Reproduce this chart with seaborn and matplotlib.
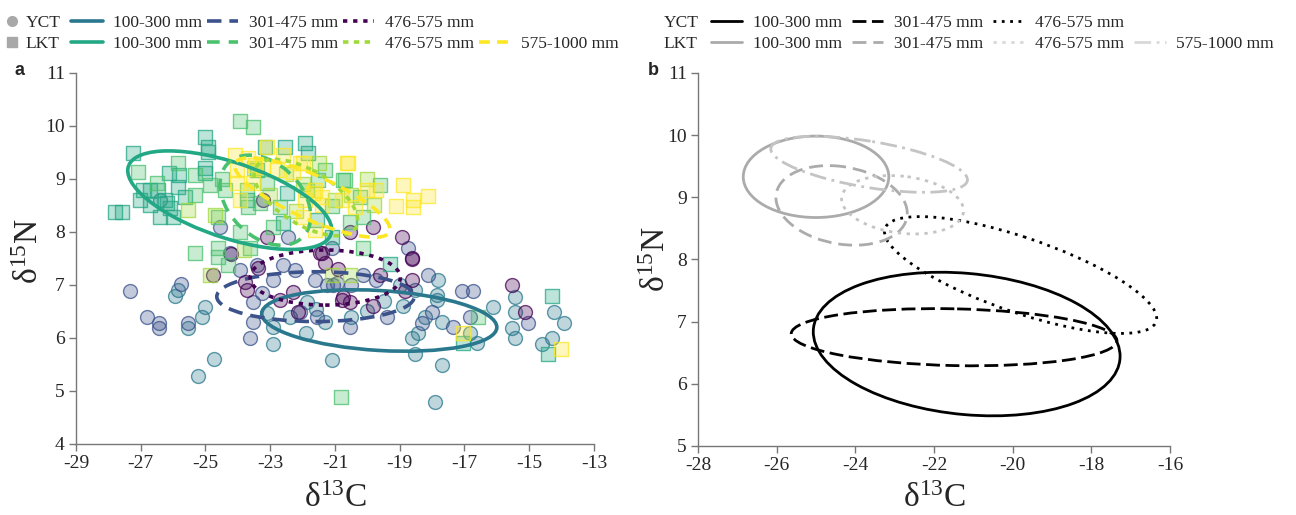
"""Stable isotope biplot: YCT vs LKT by size class."""

import matplotlib
matplotlib.use("Agg")
import matplotlib.pyplot as plt
from matplotlib.patches import Ellipse
from matplotlib.lines import Line2D
from matplotlib.colors import to_rgba
import numpy as np
import pandas as pd
import seaborn as sns

size_classes = ["100-300 mm", "301-475 mm", "476-575 mm", "575-1000 mm"]

# ---- panel a: individual fish (d13C, d15N) ----
yct_100_x = [-17.83, -17.86, -17.86, -16.13, -15.45, -15.45, -15.54, -15.45, -14.62, -14.31,
             -14.22, -13.94, -16.62, -16.84, -17.7, -17.92, -18.54, -18.63, -18.44, -18.23,
             -17.7, -21.1, -21.9, -18.54, -25.94, -25.54, -25.11, -25.0, -24.74, -25.23,
             -22.92, -23.1, -22.92, -21.31, -22.4, -21.87, -25.85, -26.41, -20.0, -19.5,
             -18.9, -20.5, -21.6, -19.0]
yct_100_y = [7.09, 6.81, 6.72, 6.58, 6.77, 6.49, 6.19, 6.0, 5.89, 6.0,
             6.49, 6.28, 5.91, 6.09, 5.49, 4.79, 5.7, 6.0, 6.09, 6.4,
             6.3, 5.58, 6.09, 6.9, 6.79, 6.19, 6.4, 6.58, 5.6, 5.28,
             5.89, 6.47, 6.21, 6.3, 6.4, 6.68, 6.9, 8.6, 6.5, 6.7,
             6.6, 6.4, 6.55, 7.0]

yct_301_x = [-27.33, -26.8, -26.44, -26.44, -25.54, -25.74, -23.63, -23.54, -23.54, -23.26,
             -22.24, -22.6, -23.94, -23.41, -20.54, -21.56, -22.92, -22.09, -20.94, -21.25,
             -17.09, -16.75, -17.36, -16.84, -18.0, -18.13, -18.32, -15.05, -19.4, -20.14,
             -19.72, -20.5, -21.06, -21.62, -24.56, -22.46, -24.25, -18.75, -21.1]
yct_301_y = [6.89, 6.4, 6.28, 6.19, 6.28, 7.02, 6.0, 6.3, 6.68, 6.85,
             7.28, 7.38, 7.28, 7.38, 6.21, 6.4, 7.09, 6.49, 7.04, 7.0,
             6.89, 6.89, 6.21, 6.4, 6.49, 7.19, 6.28, 6.28, 6.4, 7.19,
             7.09, 7.0, 7.0, 7.09, 8.09, 7.91, 7.6, 7.7, 7.7]

yct_476_x = [-24.77, -24.22, -23.78, -23.72, -23.38, -22.7, -22.15, -21.47, -21.31, -20.76,
             -20.54, -22.3, -18.63, -18.63, -20.91, -19.62, -18.85, -19.83, -20.79, -15.54,
             -15.14, -23.1, -23.23, -20.54, -19.83, -18.94, -18.63, -21.4]
yct_476_y = [7.19, 7.58, 7.06, 6.91, 7.32, 6.72, 6.49, 7.6, 7.42, 6.77,
             6.68, 6.87, 7.5, 7.09, 7.3, 7.19, 6.89, 6.6, 6.72, 7.0,
             6.49, 7.91, 8.6, 8.0, 8.09, 7.91, 7.49, 7.6]

lkt_100_x = [-27.24, -25.02, -24.93, -24.93, -25.02, -25.02, -26.13, -25.82, -26.93, -26.72,
             -26.47, -25.85, -25.64, -26.19, -26.1, -27.58, -27.8, -22.55, -23.17, -23.42,
             -21.93, -21.84, -26.41, -26.0, -22.61, -21.56, -22.49, -19.31, -14.31, -14.43,
             -17.06, -23.72, -21.1, -26.72, -27.02, -26.25]
lkt_100_y = [9.49, 9.79, 9.6, 9.51, 9.21, 9.11, 9.11, 9.08, 8.79, 8.79,
             8.79, 8.85, 8.66, 8.55, 8.45, 8.38, 8.38, 9.6, 9.6, 9.17,
             9.68, 9.49, 8.28, 8.28, 8.17, 8.23, 8.74, 7.4, 6.79, 5.7,
             5.91, 8.6, 7.91, 8.51, 8.6, 8.6]

lkt_301_x = [-23.94, -23.54, -27.09, -25.85, -26.5, -25.33, -24.5, -24.62, -23.69, -23.32,
             -22.7, -24.62, -22.92, -21.53, -21.1, -20.7, -21.87, -21.31, -20.76, -20.23,
             -19.62, -20.14, -20.54, -20.82, -24.31, -25.33, -24.62, -23.63, -23.94, -20.14,
             -16.59, -23.1, -23.72, -24.86, -24.4, -25.33]
lkt_301_y = [10.09, 9.98, 9.13, 9.3, 8.92, 8.7, 9.0, 8.28, 8.47, 8.55,
             8.47, 7.53, 8.09, 8.98, 8.49, 8.98, 8.79, 9.17, 8.98, 8.66,
             8.89, 8.28, 8.19, 4.89, 7.38, 7.6, 7.7, 7.7, 8.0, 7.7,
             6.4, 8.92, 8.79, 8.89, 8.79, 9.08]

lkt_476_x = [-25.54, -24.87, -21.1, -20.54, -22.0, -21.0, -20.5, -22.5, -19.8, -23.0,
             -21.5, -20.0, -23.5, -22.2, -24.7, -23.8]
lkt_476_y = [8.42, 7.19, 7.19, 7.19, 8.9, 8.6, 8.7, 9.1, 8.5, 8.7,
             9.3, 9.0, 9.2, 8.4, 8.32, 7.66]

lkt_575_x = [-20.6, -18.91, -18.14, -18.6, -18.6, -19.12, -20.02, -19.72, -20.79, -21.62,
             -21.99, -21.62, -21.4, -21.99, -24.03, -23.1, -23.23, -22.8, -22.3, -22.09,
             -21.93, -21.68, -21.4, -24.03, -23.54, -23.94, -20.63, -20.39, -17.06, -14.03,
             -22.6, -23.7, -24.09, -23.48]
lkt_575_y = [9.3, 8.89, 8.68, 8.6, 8.47, 8.49, 8.79, 8.79, 8.6, 8.79,
             8.28, 8.04, 8.66, 9.3, 9.17, 9.6, 9.23, 9.17, 9.13, 9.3,
             8.6, 8.74, 8.51, 8.92, 8.92, 8.6, 9.3, 8.47, 6.09, 5.79,
             9.45, 9.4, 9.45, 9.26]

# ---- ellipse summaries: centre, half-range in x / y, correlation ----
ell_group = ["YCT 100-300", "YCT 301-475", "YCT 476-575",
             "LKT 100-300", "LKT 301-475", "LKT 476-575", "LKT 575-1000"]
a_cx = [-19.63, -21.6, -21.3, -24.25, -23.15, -21.9, -21.7]
a_cy = [6.33, 6.78, 7.14, 8.6, 8.6, 8.65, 8.65]
a_hx = [3.63, 3.05, 2.32, 3.15, 1.4, 1.6, 2.4]
a_hy = [0.58, 0.47, 0.52, 0.93, 0.85, 0.72, 0.75]
a_rho = [-0.22, 0.0, 0.0, -0.6, -0.35, -0.6, -0.8]

b_cx = [-21.17, -21.49, -19.8, -25.0, -24.35, -22.8, -23.65]
b_cy = [6.64, 6.75, 7.75, 9.33, 8.87, 8.88, 9.53]
b_hx = [3.9, 4.14, 3.46, 1.85, 1.67, 1.55, 2.5]
b_hy = [1.155, 0.46, 0.94, 0.655, 0.64, 0.47, 0.45]
b_rho = [-0.17, -0.12, -0.74, 0.0, -0.2, -0.2, -0.55]

# styles
colors_a = ["#2a788e", "#3b528b", "#440154", "#22a884", "#4ac16d", "#a0da39", "#fde725"]
colors_b = ["black", "black", "black", "#ababab", "#ababab", "#c4c4c4", "#c4c4c4"]
styles_a = ["-", (0, (4, 2.2)), (0, (1.2, 1.6)), "-", (0, (3.5, 2.5)), (0, (1.5, 1.5)), (0, (3, 2))]
styles_b = ["-", (0, (5, 2)), (0, (1, 2)), "-", (0, (5, 2.5)), (0, (1.2, 2)), (0, (6, 2, 1, 2))]

points = pd.DataFrame({
    "d13C": yct_100_x + yct_301_x + yct_476_x + lkt_100_x + lkt_301_x + lkt_476_x + lkt_575_x,
    "d15N": yct_100_y + yct_301_y + yct_476_y + lkt_100_y + lkt_301_y + lkt_476_y + lkt_575_y,
    "group": (["YCT 100-300"] * len(yct_100_x) + ["YCT 301-475"] * len(yct_301_x)
              + ["YCT 476-575"] * len(yct_476_x) + ["LKT 100-300"] * len(lkt_100_x)
              + ["LKT 301-475"] * len(lkt_301_x) + ["LKT 476-575"] * len(lkt_476_x)
              + ["LKT 575-1000"] * len(lkt_575_x)),
})


def cov_ellipse(cx, cy, hx, hy, rho, **kw):
    """Ellipse whose x / y half-ranges are hx / hy with correlation rho."""
    cov = np.array([[hx ** 2, rho * hx * hy], [rho * hx * hy, hy ** 2]])
    vals, vecs = np.linalg.eigh(cov)
    order = vals.argsort()[::-1]
    vals, vecs = vals[order], vecs[:, order]
    angle = np.degrees(np.arctan2(vecs[1, 0], vecs[0, 0]))
    return Ellipse((cx, cy), 2 * np.sqrt(vals[0]), 2 * np.sqrt(vals[1]),
                   angle=angle, fill=False, **kw)


sns.set_style("ticks")
plt.rcParams["font.family"] = ["Liberation Serif", "DejaVu Serif"]
plt.rcParams["mathtext.fontset"] = "custom"
plt.rcParams["mathtext.rm"] = "Liberation Serif"
plt.rcParams["mathtext.it"] = "Liberation Serif:italic"
plt.rcParams["axes.unicode_minus"] = False

fig = plt.figure(figsize=(12.96, 5.15), dpi=100)
ax_a = fig.add_axes([0.0586, 0.1379, 0.3997, 0.7204])
ax_b = fig.add_axes([0.5386, 0.134, 0.3642, 0.7243])

# panel a scatter
for i, g in enumerate(ell_group):
    sub = points[points["group"] == g]
    marker = "o" if g.startswith("YCT") else "s"
    sns.scatterplot(data=sub, x="d13C", y="d15N", ax=ax_a, marker=marker, s=100,
                    color=to_rgba(colors_a[i], 0.3), edgecolor=to_rgba(colors_a[i], 0.75),
                    linewidth=1.0, zorder=2, legend=False)

for i in range(len(ell_group)):
    ax_a.add_patch(cov_ellipse(a_cx[i], a_cy[i], a_hx[i], a_hy[i], a_rho[i],
                               edgecolor=colors_a[i], linestyle=styles_a[i], lw=2.6, zorder=3))
    ax_b.add_patch(cov_ellipse(b_cx[i], b_cy[i], b_hx[i], b_hy[i], b_rho[i],
                               edgecolor=colors_b[i], linestyle=styles_b[i], lw=2.0, zorder=3))

label_n = r"δ$^{15}$N"
label_c = r"δ$^{13}$C"
for ax, xl, yl, xt, yt in [(ax_a, (-29, -13), (4, 11), np.arange(-29, -12, 2), np.arange(4, 12)),
                           (ax_b, (-28, -16), (5, 11), np.arange(-28, -15, 2), np.arange(5, 12))]:
    ax.set_xlim(*xl)
    ax.set_ylim(*yl)
    ax.set_xticks(xt)
    ax.set_yticks(yt)
    ax.set_xlabel(label_c, fontsize=24)
    ax.set_ylabel(label_n, fontsize=24)
    ax.tick_params(direction="out", length=5, width=1, color="#777777", labelsize=14, pad=3)
    for side in ["left", "bottom"]:
        ax.spines[side].set_color("#777777")
        ax.spines[side].set_linewidth(1)
    sns.despine(ax=ax)

ax_a.xaxis.set_label_coords(0.5, -0.105)
ax_a.yaxis.set_label_coords(-0.06, 0.52)
ax_b.xaxis.set_label_coords(0.5, -0.1)
ax_b.yaxis.set_label_coords(-0.055, 0.5)

fig.text(0.011, 0.855, "a", fontsize=13, fontweight="bold", family="Liberation Sans")
fig.text(0.5, 0.855, "b", fontsize=13, fontweight="bold", family="Liberation Sans")

# legends: site column, then size-class columns (filled column-wise)
blank = Line2D([], [], linestyle="none")
site_a = [Line2D([], [], marker="o", color="#a8a8a8", linestyle="none", markersize=7),
          Line2D([], [], marker="s", color="#a8a8a8", linestyle="none", markersize=7)]
yct_idx = [0, 1, 2, None]
lkt_idx = [3, 4, 5, 6]
h_a, h_b, labels = [], [], []
for k in range(4):
    for idx in (yct_idx[k], lkt_idx[k]):
        if idx is None:
            h_a.append(blank)
            h_b.append(blank)
            labels.append("")
        else:
            h_a.append(Line2D([], [], color=colors_a[idx], linestyle=styles_a[idx], lw=2.6))
            lc = colors_b[idx] if idx < 5 else "#d8d8d8"
            h_b.append(Line2D([], [], color=lc, linestyle=styles_b[idx], lw=2.0))
            labels.append(size_classes[k])

leg_kw = dict(loc="upper left", frameon=False, fontsize=12.5, labelspacing=0.3,
              borderaxespad=0, borderpad=0)
fig.legend(site_a, ["YCT", "LKT"], ncol=1, handlelength=0.6, handletextpad=0.5,
           bbox_to_anchor=(0.005, 0.971), **leg_kw)
fig.legend(h_a, labels, ncol=4, handlelength=1.8, handletextpad=0.6, columnspacing=0.3,
           bbox_to_anchor=(0.055, 0.971), **leg_kw)
fig.legend([blank, blank], ["YCT", "LKT"], ncol=1, handlelength=0, handletextpad=0,
           bbox_to_anchor=(0.512, 0.971), **leg_kw)
fig.legend(h_b, labels, ncol=4, handlelength=1.8, handletextpad=0.6, columnspacing=0.6,
           bbox_to_anchor=(0.5486, 0.971), **leg_kw)

fig.savefig("out.png", dpi=100)
